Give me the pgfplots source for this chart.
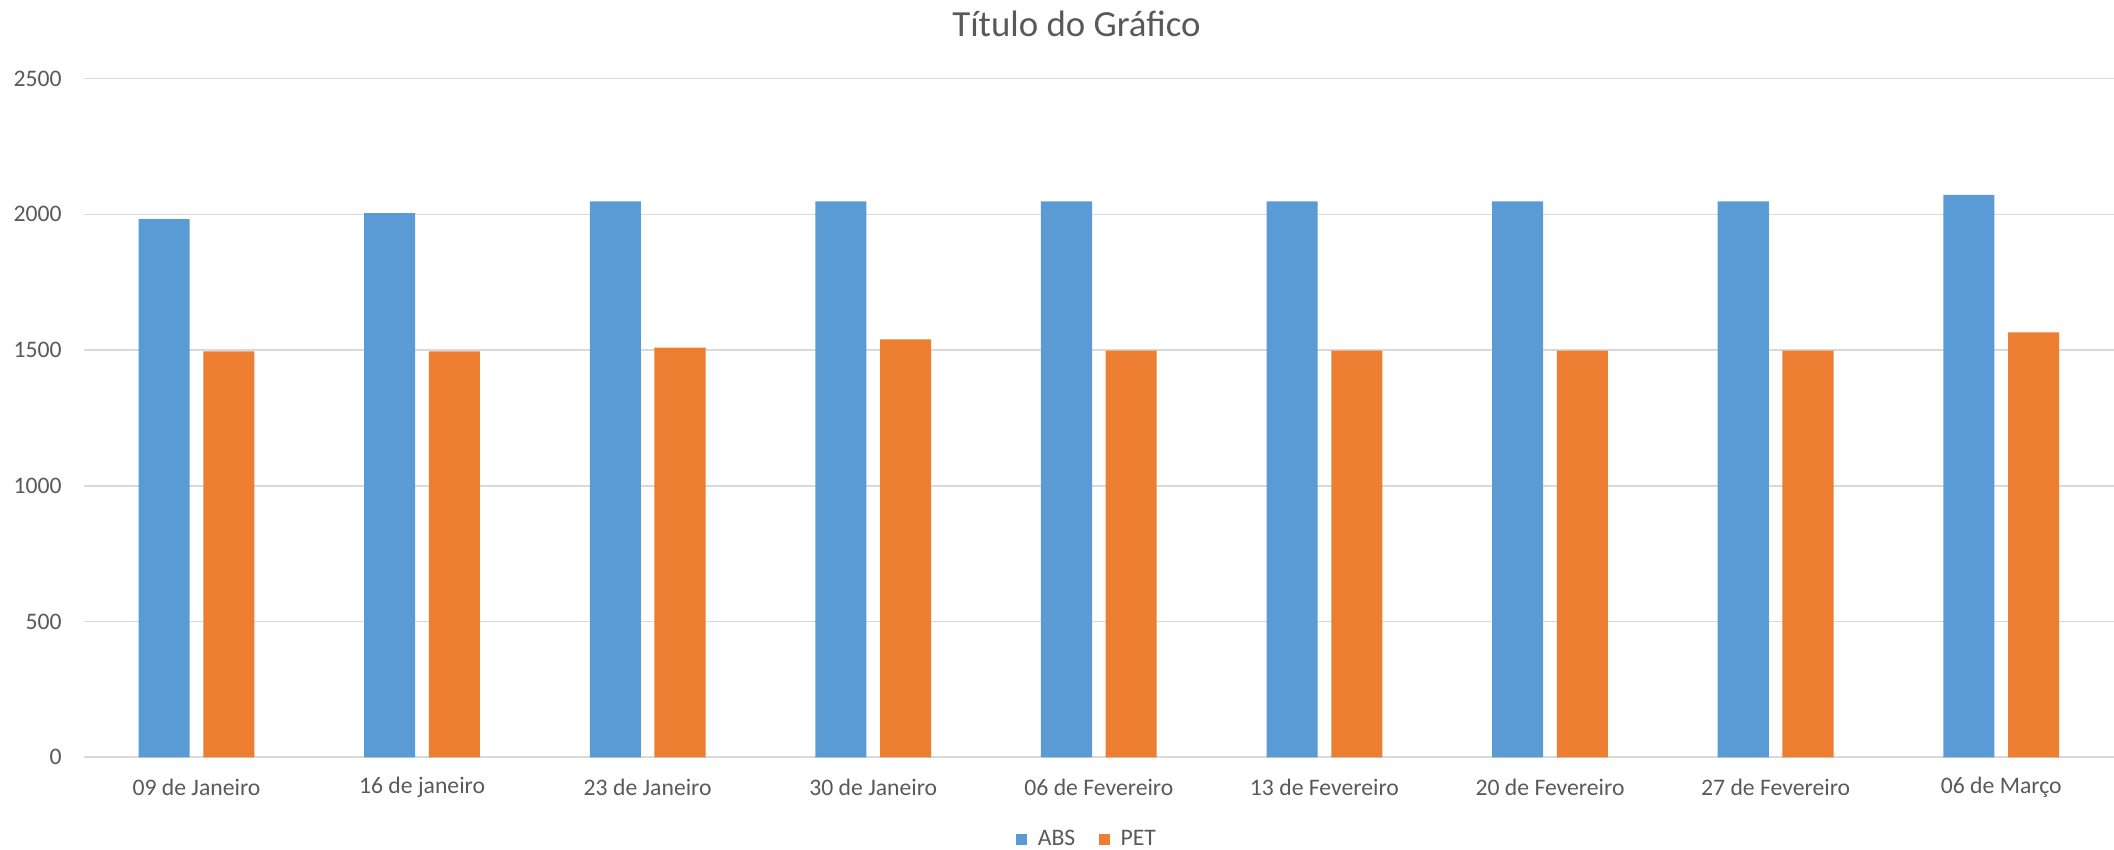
\documentclass[border=0pt]{standalone}
\usepackage{fontspec}
\setmainfont{Carlito}
\usepackage{pgfplots}
\pgfplotsset{compat=1.18}
\definecolor{absblue}{HTML}{5B9BD5}
\definecolor{petorange}{HTML}{ED7D31}
\definecolor{gridgray}{HTML}{D9D9D9}
\definecolor{textgray}{HTML}{595959}
\begin{document}
\begin{tikzpicture}
\begin{axis}[
  at={(0,0)}, anchor=south west,
  scale only axis, width=771.6pt, height=257.9pt,
  clip=false,
  xmin=-0.5, xmax=8.5, ymin=0, ymax=2500,
  ybar, bar width=19.4pt,
  xtick={0,...,8},
  xticklabels={09 de Janeiro,16 de janeiro,23 de Janeiro,30 de Janeiro,06 de Fevereiro,13 de Fevereiro,20 de Fevereiro,27 de Fevereiro,06 de Março},
  ytick={0,500,...,2500},
  /pgf/number format/assume math mode=true,
  scaled y ticks=false,
  yticklabel style={/pgf/number format/1000 sep={}},
  axis x line*=bottom, axis y line*=left,
  x axis line style={draw=gridgray, line width=0.6pt, -},
  y axis line style={draw=none},
  major tick length=0pt,
  ymajorgrids, grid style={draw=gridgray, line width=0.6pt},
  tick label style={font=\fontsize{9}{11}\selectfont, text=textgray},
  xticklabel style={anchor=center, yshift=-11.3pt},
  yticklabel style={anchor=east, inner sep=0pt, xshift=-8.2pt},
  legend style={at={(0.495,0)}, anchor=center, yshift=-31.4pt, draw=none, fill=none,
    legend columns=-1, font=\fontsize{9}{11}\selectfont, text=textgray,
    /tikz/every odd column/.append style={column sep=2pt},
    /tikz/every even column/.append style={column sep=7pt}},
  legend image code/.code={\path[#1,draw=none] (0pt,-2.1pt) rectangle (4.2pt,2.1pt);},
]
\addplot[fill=absblue, draw=none, bar shift=-12.3pt] coordinates {
 (0,1983) (1,2005) (2,2048) (3,2048) (4,2048) (5,2048) (6,2048) (7,2048) (8,2072)};
\addplot[fill=petorange, draw=none, bar shift=12.3pt] coordinates {
 (0,1495) (1,1495) (2,1509) (3,1540) (4,1498) (5,1498) (6,1498) (7,1498) (8,1565)};
\legend{ABS,PET}
\node[anchor=center, yshift=20.8pt, font=\fontsize{14}{17}\selectfont, text=textgray, inner sep=0pt]
  at (rel axis cs:0.489,1) {Título do Gráfico};
\end{axis}
\pgfresetboundingbox
\path (-31.8pt,-35.15pt) rectangle (771.6pt,287.8pt);
\end{tikzpicture}
\end{document}
